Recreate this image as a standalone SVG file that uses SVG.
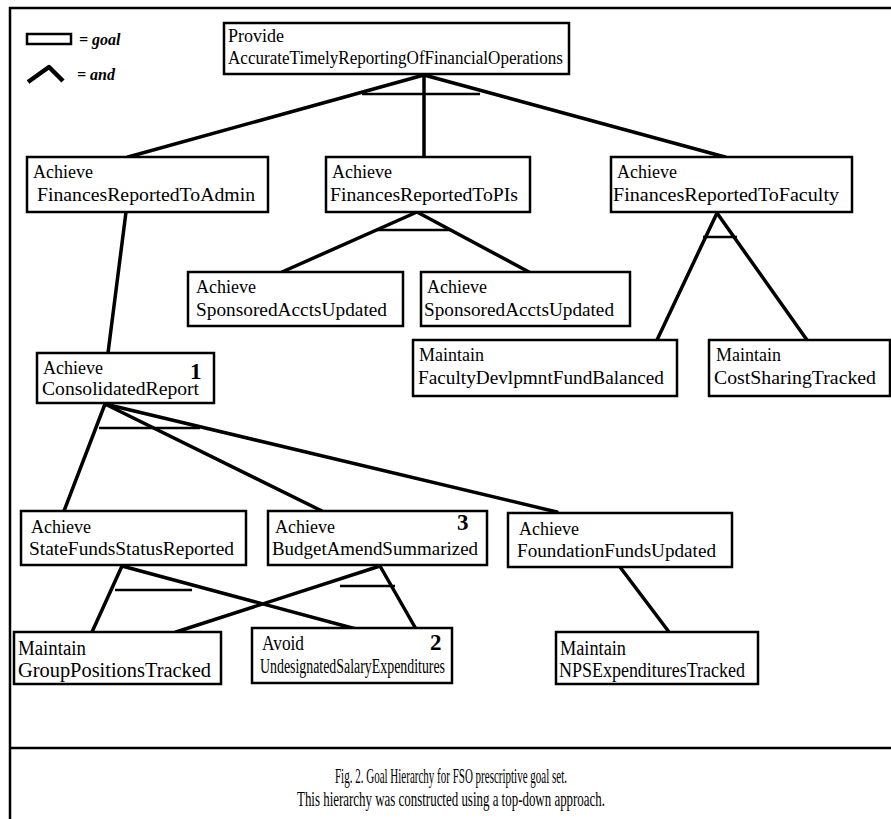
<svg xmlns="http://www.w3.org/2000/svg" width="891" height="819" viewBox="0 0 891 819">
<style>
.box{fill:#fff;stroke:#000;stroke-width:2.5}
.t{font-family:"Liberation Serif","Times New Roman",serif;font-size:18px;fill:#000}
.tb{font-family:"Liberation Serif","Times New Roman",serif;font-size:20px;fill:#000}
.c{font-family:"Liberation Serif","Times New Roman",serif;font-size:21px;fill:#000}
.n{font-family:"Liberation Serif","Times New Roman",serif;font-size:23px;font-weight:bold;fill:#000}
.lg{font-family:"Liberation Serif","Times New Roman",serif;font-size:16px;font-style:italic;font-weight:bold;fill:#000}
.e{stroke:#000;stroke-width:3.5;fill:none;stroke-linecap:round}
.and{stroke:#000;stroke-width:2.5;fill:none}
.frame{stroke:#000;stroke-width:2.5;fill:none}
</style>
<rect width="891" height="819" fill="#fff"/>
<g id="frame">
<polyline class="frame" points="892,8 10,8 10,819"/>
<line class="frame" x1="10" y1="748" x2="892" y2="748"/>
</g>
<g id="legend">
<rect x="27" y="34" width="44" height="10" fill="none" stroke="#000" stroke-width="2.5"/>
<text class="lg" x="79" y="45">= goal</text>
<polyline points="28,82 49,67 63,81" fill="none" stroke="#000" stroke-width="4.5" stroke-linejoin="round"/>
<text class="lg" x="77" y="80">= and</text>
</g>
<g id="connectors">
<line class="e" x1="424" y1="75" x2="128" y2="157"/>
<line class="e" x1="424" y1="75" x2="424" y2="157"/>
<line class="e" x1="424" y1="75" x2="725" y2="157"/>
<line class="and" x1="362" y1="94" x2="480" y2="94"/>
<line class="e" x1="417" y1="212" x2="282" y2="272"/>
<line class="e" x1="417" y1="212" x2="529" y2="272"/>
<line class="and" x1="377" y1="230" x2="451" y2="230"/>
<line class="e" x1="717" y1="213" x2="657" y2="340"/>
<line class="e" x1="717" y1="213" x2="807" y2="340"/>
<line class="and" x1="703" y1="237" x2="737" y2="237"/>
<line class="e" x1="126" y1="212" x2="108" y2="353"/>
<line class="e" x1="105" y1="404" x2="64" y2="511"/>
<line class="e" x1="105" y1="404" x2="322" y2="511"/>
<line class="e" x1="105" y1="404" x2="557" y2="512"/>
<line class="and" x1="99" y1="428" x2="200" y2="428"/>
<line class="e" x1="122" y1="566" x2="92" y2="632"/>
<line class="e" x1="122" y1="566" x2="356" y2="629"/>
<line class="and" x1="115" y1="590" x2="192" y2="590"/>
<line class="e" x1="380" y1="566" x2="176" y2="632"/>
<line class="e" x1="380" y1="566" x2="416" y2="629"/>
<line class="and" x1="340" y1="586" x2="395" y2="586"/>
<line class="e" x1="620" y1="567" x2="669" y2="632"/>
</g>
<g id="n-provide">
<rect class="box" x="224" y="23" width="345" height="51"/>
<text class="t" x="228" y="42">Provide</text>
<text class="t" x="228" y="64" textLength="335" lengthAdjust="spacingAndGlyphs">AccurateTimelyReportingOfFinancialOperations</text>
</g>
<g id="n-admin">
<rect class="box" x="27" y="157" width="241" height="55"/>
<text class="t" x="33" y="178">Achieve</text>
<text class="t" x="37" y="201" textLength="218" lengthAdjust="spacingAndGlyphs">FinancesReportedToAdmin</text>
</g>
<g id="n-pis">
<rect class="box" x="326" y="157" width="204" height="55"/>
<text class="t" x="332" y="178">Achieve</text>
<text class="t" x="330" y="201" textLength="188" lengthAdjust="spacingAndGlyphs">FinancesReportedToPIs</text>
</g>
<g id="n-faculty">
<rect class="box" x="611" y="157" width="241" height="55"/>
<text class="t" x="617" y="178">Achieve</text>
<text class="t" x="613" y="201" textLength="226" lengthAdjust="spacingAndGlyphs">FinancesReportedToFaculty</text>
</g>
<g id="n-sponsored1">
<rect class="box" x="188" y="272" width="215" height="54"/>
<text class="t" x="196" y="293">Achieve</text>
<text class="t" x="196" y="316" textLength="191" lengthAdjust="spacingAndGlyphs">SponsoredAcctsUpdated</text>
</g>
<g id="n-sponsored2">
<rect class="box" x="421" y="272" width="209" height="54"/>
<text class="t" x="427" y="293">Achieve</text>
<text class="t" x="424" y="316" textLength="190" lengthAdjust="spacingAndGlyphs">SponsoredAcctsUpdated</text>
</g>
<g id="n-facdev">
<rect class="box" x="413" y="340" width="264" height="56"/>
<text class="t" x="419" y="361">Maintain</text>
<text class="t" x="418" y="384" textLength="246" lengthAdjust="spacingAndGlyphs">FacultyDevlpmntFundBalanced</text>
</g>
<g id="n-costsharing">
<rect class="box" x="709" y="340" width="181" height="56"/>
<text class="t" x="716" y="361">Maintain</text>
<text class="t" x="714" y="384" textLength="162" lengthAdjust="spacingAndGlyphs">CostSharingTracked</text>
</g>
<g id="n-consolidated">
<rect class="box" x="37" y="353" width="177" height="50"/>
<text class="t" x="43" y="374">Achieve</text>
<text class="t" x="42" y="395" textLength="157" lengthAdjust="spacingAndGlyphs">ConsolidatedReport</text>
<text class="n" x="190" y="379">1</text>
</g>
<g id="n-statefunds">
<rect class="box" x="21" y="511" width="225" height="54"/>
<text class="t" x="31" y="533">Achieve</text>
<text class="t" x="29" y="555" textLength="205" lengthAdjust="spacingAndGlyphs">StateFundsStatusReported</text>
</g>
<g id="n-budget">
<rect class="box" x="268" y="511" width="219" height="54"/>
<text class="t" x="275" y="533">Achieve</text>
<text class="t" x="272" y="555" textLength="206" lengthAdjust="spacingAndGlyphs">BudgetAmendSummarized</text>
<text class="n" x="457" y="530">3</text>
</g>
<g id="n-foundation">
<rect class="box" x="508" y="513" width="224" height="54"/>
<text class="t" x="519" y="535">Achieve</text>
<text class="t" x="517" y="557" textLength="199" lengthAdjust="spacingAndGlyphs">FoundationFundsUpdated</text>
</g>
<g id="n-grouppositions">
<rect class="box" x="14" y="632" width="207" height="52"/>
<text class="tb" x="18" y="655" textLength="68" lengthAdjust="spacingAndGlyphs">Maintain</text>
<text class="tb" x="18" y="677" textLength="193" lengthAdjust="spacingAndGlyphs">GroupPositionsTracked</text>
</g>
<g id="n-undesignated">
<rect class="box" x="252" y="628" width="200" height="55"/>
<text class="tb" x="262" y="650" textLength="42" lengthAdjust="spacingAndGlyphs">Avoid</text>
<text class="tb" x="260" y="673" textLength="185" lengthAdjust="spacingAndGlyphs">UndesignatedSalaryExpenditures</text>
<text class="n" x="430" y="650">2</text>
</g>
<g id="n-nps">
<rect class="box" x="556" y="632" width="202" height="52"/>
<text class="tb" x="560" y="655" textLength="66" lengthAdjust="spacingAndGlyphs">Maintain</text>
<text class="tb" x="559" y="677" textLength="186" lengthAdjust="spacingAndGlyphs">NPSExpendituresTracked</text>
</g>
<g id="caption">
<text class="c" x="451" y="783" text-anchor="middle" textLength="232" lengthAdjust="spacingAndGlyphs">Fig. 2.  Goal Hierarchy for FSO prescriptive goal set.</text>
<text class="c" x="451" y="806" text-anchor="middle" textLength="308" lengthAdjust="spacingAndGlyphs">This hierarchy was constructed using a top-down approach.</text>
</g>
</svg>
